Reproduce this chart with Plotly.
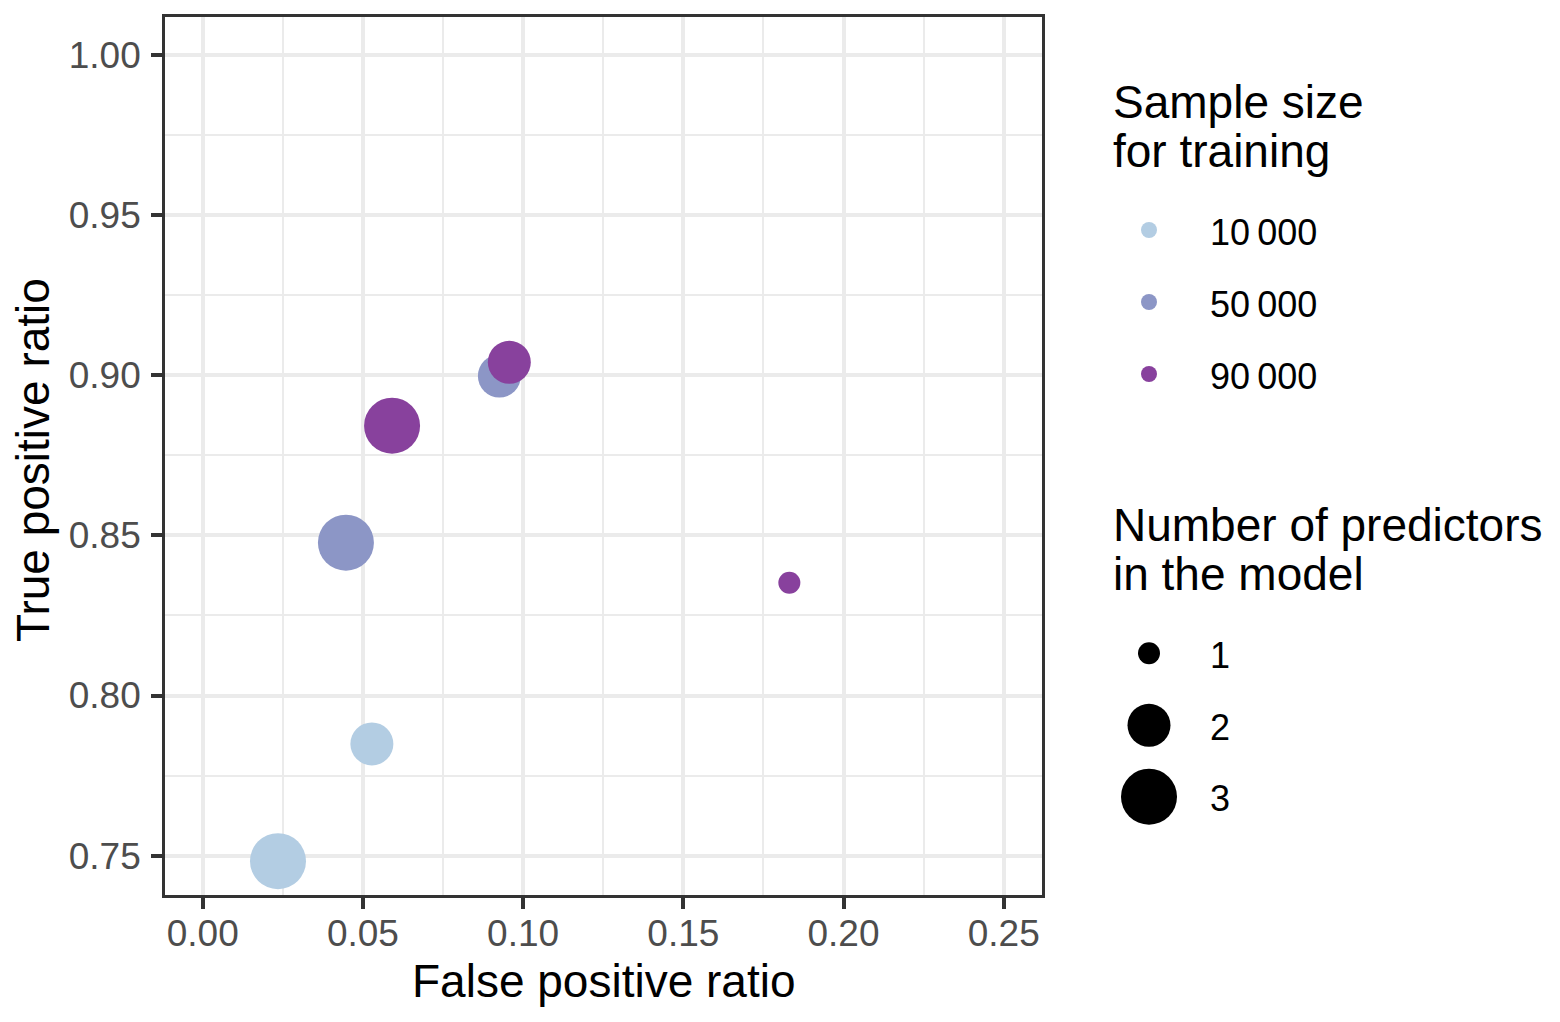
import plotly.graph_objects as go

# ---------------- data ----------------
fpr = [0.0235, 0.0528, 0.0447, 0.0926, 0.0591, 0.0957, 0.1831]
tpr = [0.7483, 0.7849, 0.8477, 0.8997, 0.8842, 0.9040, 0.8352]
sample_size = [10000, 10000, 50000, 50000, 90000, 90000, 90000]
n_predictors = [3, 2, 3, 2, 3, 2, 1]

sample_levels = [10000, 50000, 90000]
sample_labels = ["10\u2009000", "50\u2009000", "90\u2009000"]
pred_levels = [1, 2, 3]
pred_labels = ["1", "2", "3"]

x_ticks = [0.00, 0.05, 0.10, 0.15, 0.20, 0.25]
y_ticks = [0.75, 0.80, 0.85, 0.90, 0.95, 1.00]

# ---------------- styles ----------------
W, H = 1560, 1022
FONT = "Liberation Sans, Arial, sans-serif"
colour_map = {10000: "#B3CDE3", 50000: "#8C96C6", 90000: "#88419D"}
size_map = {1: 22, 2: 43, 3: 56}  # marker diameter in px

# panel (inner edge of border) in pixels
PL, PR, PT, PB = 165, 1042, 17, 895
# pixel scale: x=0 at 202.7 px, y=1 at 54.7 px, 3204 px per unit
X0PX, Y1PX, SCALE = 202.7, 54.7, 3204.0
XR = [(PL - X0PX) / SCALE, (PR - X0PX) / SCALE]
YR = [1 - (PB - Y1PX) / SCALE, 1 + (Y1PX - PT) / SCALE]


def px(xp):
    return xp / W


def py(yp):
    return 1 - yp / H


fig = go.Figure()

fig.add_trace(go.Scatter(
    x=fpr, y=tpr, mode="markers",
    marker=dict(color=[colour_map[s] for s in sample_size],
                size=[size_map[n] for n in n_predictors],
                line=dict(width=0), opacity=1),
    showlegend=False, hoverinfo="x+y",
))
# invisible copy so the tick-label overlay axis is drawn
fig.add_trace(go.Scatter(
    x=fpr, y=tpr, mode="markers", marker=dict(opacity=0, size=1),
    xaxis="x3", yaxis="y", showlegend=False, hoverinfo="skip",
))

# ---------------- legend keys drawn on a pixel-space helper axis ----------------
KEY_X = 1149
col_key_y0, key_step = 230, 72
size_key_y = [653.3, 725.3, 796.7]

fig.add_trace(go.Scatter(
    x=[KEY_X] * len(sample_levels),
    y=[col_key_y0 + i * key_step for i in range(len(sample_levels))],
    mode="markers",
    marker=dict(color=[colour_map[s] for s in sample_levels], size=16, line=dict(width=0)),
    xaxis="x2", yaxis="y2", showlegend=False, hoverinfo="skip",
))
fig.add_trace(go.Scatter(
    x=[KEY_X] * len(pred_levels),
    y=size_key_y,
    mode="markers",
    marker=dict(color="#000000", size=[size_map[n] for n in pred_levels],
                line=dict(width=0), opacity=1),
    xaxis="x2", yaxis="y2", showlegend=False, hoverinfo="skip",
))

TICKFONT = dict(family=FONT, size=37, color="#4D4D4D")
axis_common = dict(
    showline=True, mirror=True, linecolor="#333333", linewidth=2.7,
    ticks="outside", ticklen=11, tickwidth=3.5, tickcolor="#333333",
    showgrid=True, gridcolor="#EBEBEB", gridwidth=3.5,
    zeroline=False, tickformat=".2f",
    tickfont=TICKFONT,
)

fig.update_layout(
    width=W, height=H,
    margin=dict(l=0, r=0, t=0, b=0),
    paper_bgcolor="white", plot_bgcolor="white",
    font=dict(family=FONT, color="black"),
    xaxis=dict(domain=[px(PL), px(PR)], range=XR,
               tickvals=x_ticks, showticklabels=False,
               minor=dict(dtick=0.025, tick0=0, showgrid=True, gridcolor="#EBEBEB",
                          gridwidth=2, ticks=""),
               **axis_common),
    yaxis=dict(domain=[py(PB), py(PT)], range=YR,
               tickvals=y_ticks, ticklabelstandoff=3,
               minor=dict(dtick=0.025, tick0=0, showgrid=True, gridcolor="#EBEBEB",
                          gridwidth=2, ticks=""),
               **axis_common),
    # overlay axis carrying only the x tick labels (tighter gap, as in ggplot)
    xaxis3=dict(overlaying="x", anchor="free", position=py(PB), side="bottom",
                range=XR, tickvals=x_ticks, tickformat=".2f", tickfont=TICKFONT,
                ticks="outside", ticklen=6, tickcolor="rgba(0,0,0,0)",
                showgrid=False, showline=False, zeroline=False),
    xaxis2=dict(domain=[px(1080), 1], range=[1080, W], visible=False, fixedrange=True,
                anchor="y2"),
    yaxis2=dict(domain=[0, 1], range=[H, 0], visible=False, fixedrange=True, anchor="x2"),
)

ann = []
TITLE_SIZE = 46
TEXT_SIZE = 36


def add_text(text, x, y, size, xanchor="left", angle=0, color="black"):
    ann.append(dict(text=text, x=px(x), y=py(y), xref="paper", yref="paper",
                    xanchor=xanchor, yanchor="middle", showarrow=False,
                    textangle=angle, font=dict(family=FONT, size=size, color=color)))


# axis titles
add_text("False positive ratio", 604, 981, TITLE_SIZE, xanchor="center")
add_text("True positive ratio", 33, 460, TITLE_SIZE, xanchor="center", angle=-90)

# legend titles
add_text("Sample size", 1111, 102, TITLE_SIZE)
add_text("for training", 1111, 151, TITLE_SIZE)
add_text("Number of predictors", 1111, 525, TITLE_SIZE)
add_text("in the model", 1111, 574, TITLE_SIZE)

# legend labels
for i, lab in enumerate(sample_labels):
    add_text(lab, 1208, col_key_y0 + i * key_step + 2, TEXT_SIZE)
for i, lab in enumerate(pred_labels):
    add_text(lab, 1208, size_key_y[i] + 2, TEXT_SIZE)

fig.update_layout(annotations=ann)

fig.write_html("out.html", config={"displayModeBar": False},
               post_script="document.body.style.margin='0px';")
